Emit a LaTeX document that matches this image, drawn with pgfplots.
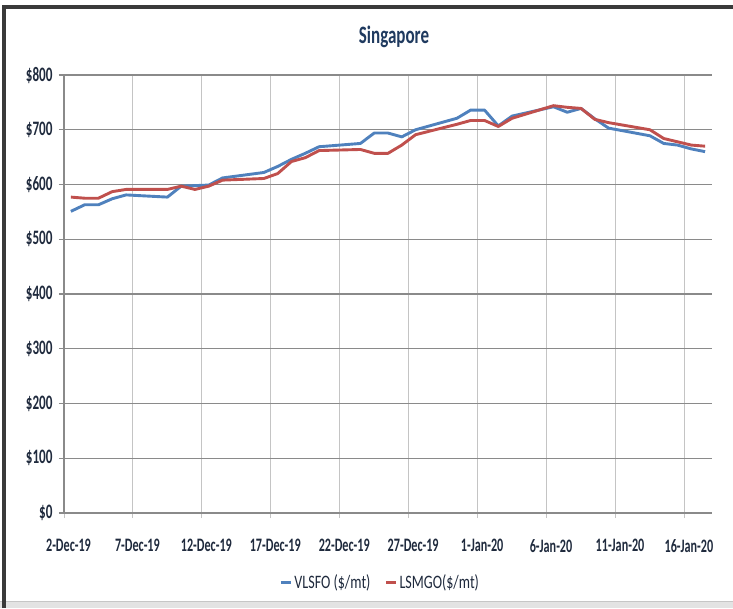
\documentclass[border=0pt]{standalone}
\usepackage{pgfplots}
\pgfplotsset{compat=1.18}
\usepackage{fontspec}
\setmainfont{Carlito}[FakeStretch=0.74]
\newfontfamily\tickfont{Carlito}[FakeStretch=0.64]
\newfontfamily\titlefont{Carlito}[FakeStretch=0.68]
\definecolor{vlsfo}{HTML}{4F81BD}
\definecolor{lsmgo}{HTML}{C0504D}
\definecolor{labeltext}{HTML}{1F2A3D}
\definecolor{titletext}{HTML}{1F3A5F}
\definecolor{hgrid}{HTML}{8A8A8A}
\definecolor{vgrid}{HTML}{C4C4C4}
\definecolor{framecol}{HTML}{3A3A3A}

% Prices in $/mt; x = days since 2-Dec-19, each quote sits mid-day
\pgfplotstableread{
d    price
0.5  551
1.5  563
2.5  563
3.5  574
4.5  581
7.5  577
8.5  597
9.5  598
10.5 599
11.5 612
14.5 622
15.5 633
16.5 646
17.5 657
18.5 669
21.5 675
22.5 694
23.5 694
24.5 687
25.5 700
28.5 721
29.5 736
30.5 736
31.5 707
32.5 725
35.5 742
36.5 732
37.5 739
38.5 720
39.5 703
42.5 689
43.5 675
44.5 672
45.5 665
46.5 660
}\vlsfodata

\pgfplotstableread{
d    price
0.5  577
1.5  575
2.5  575
3.5  587
4.5  591
7.5  591
8.5  597
9.5  591
10.5 597
11.5 608
14.5 611
15.5 620
16.5 642
17.5 649
18.5 662
21.5 664
22.5 657
23.5 657
24.5 672
25.5 691
28.5 710
29.5 717
30.5 717
31.5 706
32.5 721
35.5 744
36.5 741
37.5 739
38.5 719
39.5 713
42.5 700
43.5 684
44.5 678
45.5 672
46.5 670
}\lsmgodata

\begin{document}
\begin{tikzpicture}[x=1pt,y=1pt]
\path[use as bounding box, fill=white] (0,0) rectangle (733,-608);
\fill[gray!22] (0,-601) rectangle (733,-608);
\draw[gray!45, line width=0.6pt] (0,-601) -- (733,-601);
\draw[framecol, line width=4pt] (4,-608) -- (4,-7) -- (733,-7);

\node[anchor=base, font=\titlefont\bfseries\fontsize{25}{28}\selectfont, text=titletext] at (394,-43) {Singapore};

\begin{axis}[
  at={(64pt,-513pt)}, anchor=south west,
  scale only axis, width=648pt, height=438pt,
  xmin=0, xmax=47, ymin=0, ymax=800,
  axis lines*=left,
  axis line style={hgrid, line width=1.2pt},
  grid=major,
  x grid style={vgrid, line width=0.9pt},
  y grid style={hgrid, line width=1.3pt},
  xtick={0,5,...,45},
  ytick={0,100,...,800},
  xticklabels={2-Dec-19,7-Dec-19,12-Dec-19,17-Dec-19,22-Dec-19,27-Dec-19,1-Jan-20,6-Jan-20,11-Jan-20,16-Jan-20},
  yticklabels={\$0,\$100,\$200,\$300,\$400,\$500,\$600,\$700,\$800},
  tick align=outside, major tick length=5pt,
  x tick style={vgrid, line width=0.9pt},
  y tick style={hgrid, line width=1.3pt},
  ticklabel style={font=\tickfont\bfseries\fontsize{19}{21}\selectfont, text=labeltext, inner sep=0pt},
  xticklabel style={yshift=-21pt, xshift=4.5pt},
  yticklabel style={xshift=-6.3pt, font=\tickfont\bfseries\fontsize{20.5}{22}\selectfont},
  legend columns=2,
  legend style={at={(axis description cs:0.488,-0.158)}, anchor=center,
    draw=none, fill=none, font=\fontsize{19}{21}\selectfont, text=labeltext,
    /tikz/every even column/.append style={column sep=12pt}},
  legend image code/.code={\draw[#1, line width=3pt] (0pt,0pt) -- (10pt,0pt);},
]
\addplot[vlsfo, line width=2.9pt, line join=round] table[x=d, y=price] {\vlsfodata};
\addlegendentry{VLSFO (\$/mt)}
\addplot[lsmgo, line width=2.9pt, line join=round] table[x=d, y=price] {\lsmgodata};
\addlegendentry{LSMGO(\$/mt)}
\end{axis}
\end{tikzpicture}
\end{document}
